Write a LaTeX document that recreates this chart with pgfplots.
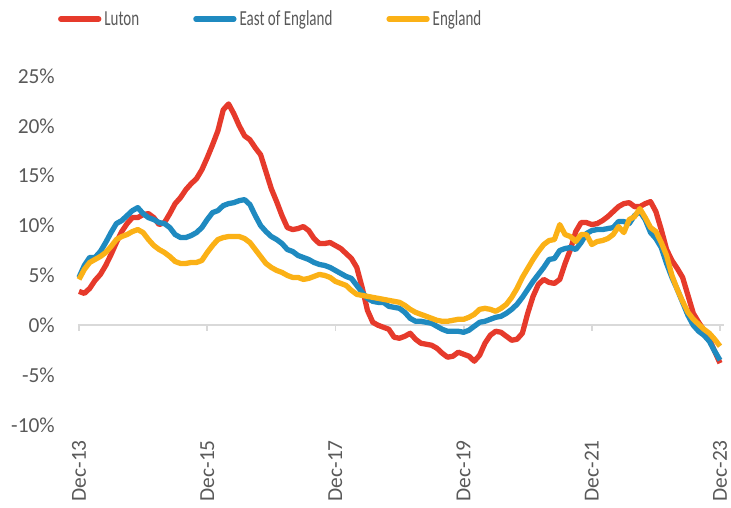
\documentclass[border=0pt]{standalone}
\usepackage{pgfplots}
\pgfplotsset{compat=1.18}
\usepackage{pgfplotstable}
\usepackage{fontspec}
\setmainfont{Carlito}
\definecolor{luton}{HTML}{E63A2B}
\definecolor{east}{HTML}{1F8AC0}
\definecolor{eng}{HTML}{FBB116}
\definecolor{txt}{HTML}{595959}
\definecolor{axl}{HTML}{D9D9D9}
\pgfplotstableread{
m luton east eng
0 3.4 4.8 4.6
1 3.2 6.0 5.6
2 3.7 6.8 6.3
3 4.5 6.8 6.6
4 5.1 7.4 6.9
5 6.0 8.3 7.3
6 7.1 9.3 7.9
7 8.3 10.2 8.6
8 9.4 10.5 8.9
9 10.2 11.0 9.1
10 10.8 11.5 9.4
11 10.8 11.8 9.6
12 11.1 11.2 9.3
13 11.2 10.8 8.6
14 10.8 10.6 8.0
15 10.1 10.3 7.6
16 10.3 10.2 7.3
17 11.2 9.8 6.9
18 12.2 9.1 6.4
19 12.8 8.8 6.2
20 13.6 8.8 6.2
21 14.2 9.0 6.3
22 14.7 9.3 6.3
23 15.6 9.8 6.5
24 16.8 10.6 7.3
25 18.1 11.3 8.0
26 19.5 11.5 8.6
27 21.6 12.0 8.8
28 22.2 12.2 8.9
29 21.2 12.3 8.9
30 20.0 12.5 8.9
31 19.0 12.6 8.7
32 18.6 12.1 8.3
33 17.8 11.0 7.6
34 17.1 10.0 6.9
35 15.4 9.4 6.2
36 13.7 8.9 5.8
37 12.4 8.6 5.5
38 11.0 8.2 5.3
39 9.8 7.6 5.0
40 9.6 7.4 4.8
41 9.7 7.0 4.8
42 9.9 6.8 4.6
43 9.5 6.6 4.7
44 8.7 6.3 4.9
45 8.2 6.1 5.1
46 8.2 6.0 5.0
47 8.3 5.8 4.8
48 8.0 5.5 4.4
49 7.7 5.2 4.2
50 7.2 4.9 4.0
51 6.7 4.7 3.5
52 5.8 4.0 3.1
53 3.8 3.3 3.0
54 1.5 2.7 2.9
55 0.3 2.4 2.8
56 0.0 2.3 2.7
57 -0.2 2.3 2.6
58 -0.4 1.9 2.5
59 -1.2 1.8 2.4
60 -1.3 1.7 2.3
61 -1.1 1.3 2.0
62 -0.8 0.7 1.6
63 -1.4 0.4 1.3
64 -1.8 0.4 1.1
65 -1.9 0.3 0.9
66 -2.0 0.2 0.7
67 -2.3 -0.1 0.5
68 -2.8 -0.4 0.4
69 -3.2 -0.6 0.4
70 -3.1 -0.6 0.5
71 -2.7 -0.6 0.6
72 -2.9 -0.7 0.6
73 -3.1 -0.5 0.8
74 -3.6 -0.1 1.1
75 -3.0 0.3 1.6
76 -1.8 0.4 1.7
77 -1.0 0.6 1.6
78 -0.6 0.8 1.4
79 -0.7 0.9 1.7
80 -1.1 1.2 2.1
81 -1.5 1.6 2.8
82 -1.4 2.1 3.7
83 -0.8 2.8 4.8
84 1.2 3.6 5.7
85 2.9 4.4 6.6
86 4.1 5.1 7.4
87 4.6 5.8 8.1
88 4.3 6.6 8.5
89 4.2 6.7 8.6
90 4.6 7.5 10.1
91 6.2 7.7 9.1
92 7.6 7.8 8.9
93 9.4 7.6 8.4
94 10.3 8.3 9.1
95 10.3 9.2 9.1
96 10.1 9.5 8.1
97 10.2 9.6 8.4
98 10.5 9.6 8.5
99 10.9 9.7 8.7
100 11.4 9.8 9.1
101 11.9 10.4 9.9
102 12.2 10.4 9.3
103 12.3 10.2 10.6
104 11.9 11.0 10.9
105 11.9 11.4 11.7
106 12.2 10.6 10.8
107 12.4 9.3 9.8
108 11.4 8.7 9.4
109 9.6 7.8 8.3
110 7.6 6.2 7.0
111 6.5 4.8 5.0
112 5.7 3.6 3.6
113 4.8 2.3 2.4
114 3.0 1.0 1.3
115 1.2 0.0 0.6
116 0.3 -0.6 0.1
117 -0.5 -1.0 -0.4
118 -1.4 -1.6 -0.8
119 -2.6 -2.6 -1.4
120 -3.8 -3.5 -2.1
}\data
\begin{document}
\begin{tikzpicture}
\path[use as bounding box] (0,0) rectangle (731bp,508bp);
\begin{axis}[
  at={(79bp,83bp)}, anchor=south west,
  scale only axis, width=641bp, height=349bp,
  xmin=0, xmax=120, ymin=-10, ymax=25,
  clip=false,
  axis line style={draw=none},
  tick style={draw=none},
  xtick={0,24,48,72,96,120},
  xticklabels={Dec-13,Dec-15,Dec-17,Dec-19,Dec-21,Dec-23},
  ytick={-10,-5,0,5,10,15,20,25},
  yticklabels={-10\%,-5\%,0\%,5\%,10\%,15\%,20\%,25\%},
  ticklabel style={font=\fontsize{21.5}{25}\selectfont, text=txt, inner sep=0pt},
  xticklabel style={rotate=90, anchor=east},
  yticklabel style={anchor=east},
  xticklabel shift=15bp,
  yticklabel shift=24bp,
  unbounded coords=jump,
  legend columns=3,
  legend style={draw=none, fill=none, inner sep=0pt, outer sep=0pt,
    at={(axis description cs:-0.0326,1.1633)}, anchor=west,
    font=\fontsize{21.5}{25}\selectfont, text=txt,
    nodes={inner sep=0pt},
    /tikz/every odd column/.append style={column sep=3bp},
    /tikz/every even column/.append style={column sep=54bp}},
  legend image code/.code={\draw[line cap=round] (0bp,0bp) -- (38bp,0bp);},
]
\addplot[axl, line width=1.8bp, forget plot] coordinates {(-0.2,0) (120.8,0)};
\addplot[axl, line width=1.8bp, forget plot] coordinates {
(0,0) (0,-0.6) (0,nan) (24,0) (24,-0.6) (24,nan) (48,0) (48,-0.6) (48,nan)
(72,0) (72,-0.6) (72,nan) (96,0) (96,-0.6) (96,nan) (120,0) (120,-0.6)};
\addplot[luton, line width=5.3bp, line join=round] table[x=m, y=luton] {\data};
\addlegendentry{\scalebox{0.7}[1]{Luton}}
\addplot[east, line width=5.3bp, line join=round] table[x=m, y=east] {\data};
\addlegendentry{\scalebox{0.7}[1]{East of England}}
\addplot[eng, line width=5.3bp, line join=round] table[x=m, y=eng] {\data};
\addlegendentry{\scalebox{0.7}[1]{England}}
\end{axis}
\end{tikzpicture}
\end{document}
